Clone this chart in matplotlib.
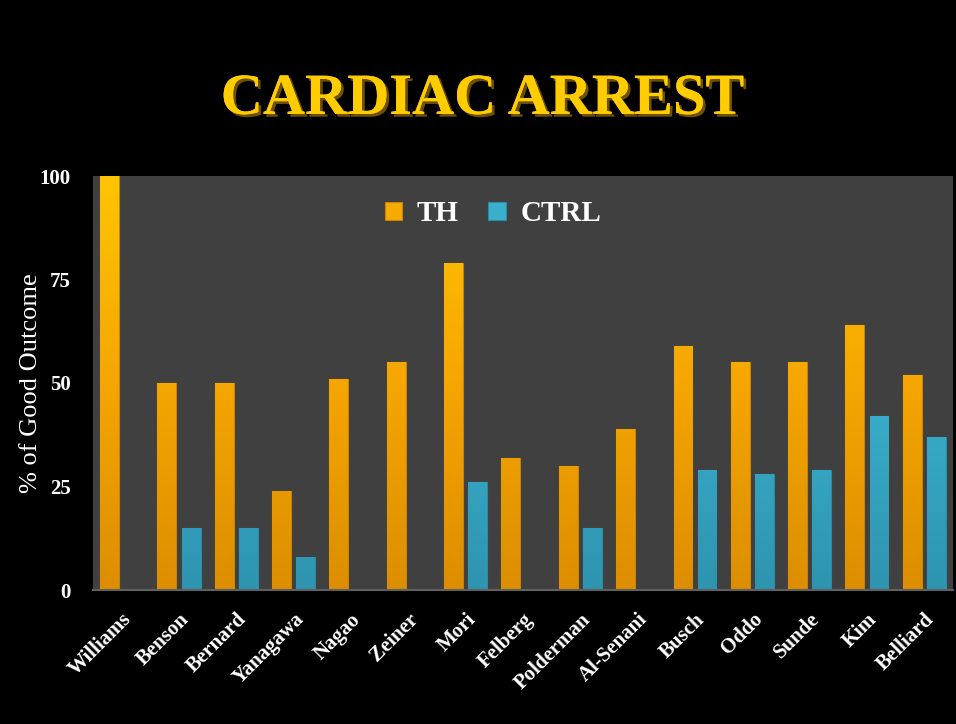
import matplotlib
matplotlib.use("Agg")
import matplotlib.pyplot as plt
import matplotlib.patheffects as pe
from matplotlib.colors import LinearSegmentedColormap
import numpy as np

studies = ["Williams", "Benson", "Bernard", "Yanagawa", "Nagao", "Zeiner", "Mori",
           "Felberg", "Polderman", "Al-Senani", "Busch", "Oddo", "Sunde", "Kim", "Belliard"]
th = [100, 50, 50, 24, 51, 55, 79, 32, 30, 39, 59, 55, 55, 64, 52]
ctrl = [0, 15, 15, 8, 0, 0, 26, 0, 15, 0, 29, 28, 29, 42, 37]
yticks = [0, 25, 50, 75, 100]

serif = ["Liberation Serif", "DejaVu Serif"]

fig = plt.figure(figsize=(9.56, 7.24), dpi=100, facecolor="black")
ax = fig.add_axes([93/956, 134/724, 860/956, 414/724])
ax.set_facecolor("#404040")

x = np.arange(len(studies))
w = 0.33
b1 = ax.bar(x - 0.045 - w/2, th, width=w, color="#F7AA00", edgecolor="#C88400", linewidth=0.8, label="TH")
b2 = ax.bar(x + 0.045 + w/2, ctrl, width=w, color="#3AAFCC", edgecolor="#2A8CA8", linewidth=0.8, label="CTRL")

cm_th = LinearSegmentedColormap.from_list("th", ["#DC8E00", "#F5A600", "#FFC400"])
cm_ct = LinearSegmentedColormap.from_list("ct", ["#2E94B0", "#3AAFCC", "#55C3DE"])
grad = np.linspace(0, 1, 256).reshape(-1, 1)
for bars, cm in ((b1, cm_th), (b2, cm_ct)):
    for p in bars:
        h = p.get_height()
        if h <= 0:
            continue
        x0 = p.get_x()
        im = ax.imshow(grad, cmap=cm, origin="lower", aspect="auto",
                       extent=(x0, x0 + p.get_width(), 0, 100), zorder=p.get_zorder() + 0.1)
        im.set_clip_path(p)

ax.set_xlim(-0.5, len(studies) - 0.5)
ax.set_ylim(0, 100)
ax.set_yticks(yticks)
ax.set_yticklabels([str(v) for v in yticks], fontfamily=serif, fontweight="bold",
                   fontsize=15, color="white")
ax.set_xticks(x)
ax.set_xticklabels(studies, rotation=45, ha="right", rotation_mode="anchor",
                   fontfamily=serif, fontweight="bold", fontsize=15, color="white")
ax.tick_params(axis="both", length=0)
ax.tick_params(axis="y", pad=16)
ax.tick_params(axis="x", pad=14)
for s in ["top", "right", "left"]:
    ax.spines[s].set_visible(False)
ax.spines["bottom"].set_color("#606060")
ax.spines["bottom"].set_linewidth(1.5)

ax.set_ylabel("% of Good Outcome", fontfamily=serif, fontsize=19, color="white")
ax.yaxis.set_label_coords(-51/860, 0.5)

leg = ax.legend(loc="upper center", bbox_to_anchor=(0.465, 1.005), ncol=2, frameon=False,
                prop={"family": serif, "size": 21, "weight": "bold"},
                handlelength=0.6, handleheight=0.6, handletextpad=0.5, columnspacing=1.0)
for t in leg.get_texts():
    t.set_color("white")

fig.text(0.505, 0.862, "CARDIAC ARREST", ha="center", va="center", color="#FFCC00",
         fontfamily=serif, fontweight="bold", fontsize=42,
         path_effects=[pe.withSimplePatchShadow(offset=(2, -2), shadow_rgbFace="#7a5a00", alpha=0.9), pe.Normal()])

fig.savefig("out.png", dpi=100, facecolor="black")
